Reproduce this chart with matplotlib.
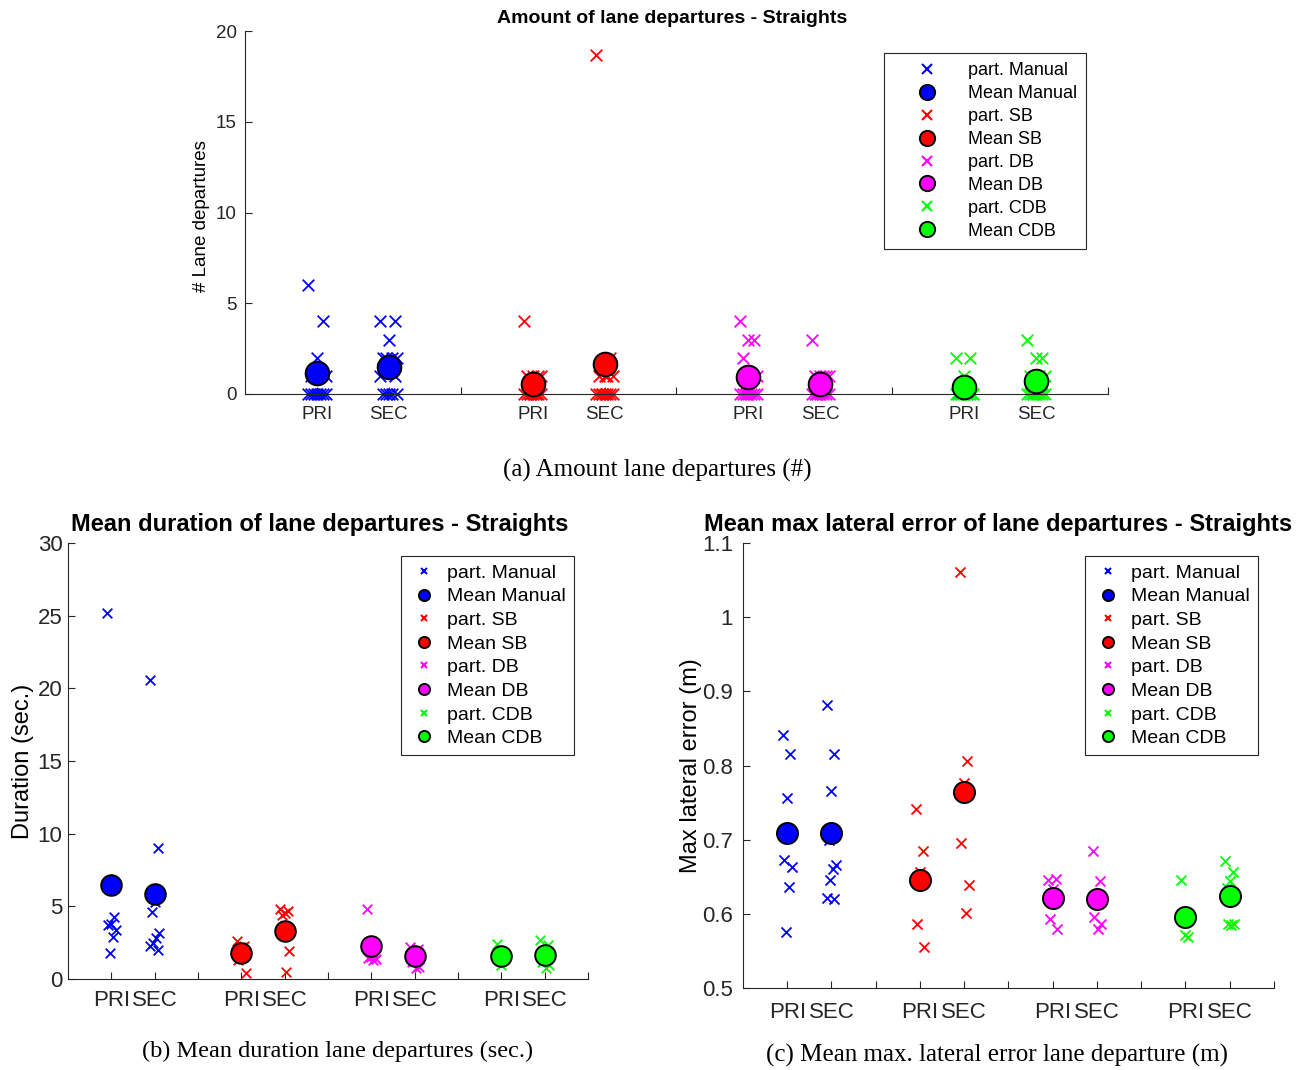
import numpy as np
import matplotlib.pyplot as plt
from matplotlib.lines import Line2D

plt.rcParams['font.family'] = ['Liberation Sans', 'DejaVu Sans']

conds = ['Manual', 'SB', 'DB', 'CDB']
colors = ['#0000ff', '#ff0000', '#ff00ff', '#00ff00']
tick_labels = ['PRI', 'SEC', '']

# amount of lane departures per participant (PRI, SEC)
count_manual = [[6, 4, 2, 1, 1, 1, 1, 0, 0, 0, 0, 0, 0, 0],
                [4, 4, 3, 2, 2, 2, 2, 1, 1, 0, 0, 0, 0, 0]]
count_sb = [[4, 1, 1, 1, 1, 0, 0, 0, 0, 0, 0, 0, 0, 0],
            [18.7, 2, 1, 1, 1, 1, 0, 0, 0, 0, 0, 0, 0, 0]]
count_db = [[4, 3, 3, 2, 1, 1, 0, 0, 0, 0, 0, 0, 0, 0],
            [3, 1, 1, 1, 1, 1, 0, 0, 0, 0, 0, 0, 0, 0]]
count_cdb = [[2, 2, 1, 0, 0, 0, 0, 0, 0, 0, 0, 0, 0, 0],
             [3, 2, 2, 1, 1, 1, 0, 0, 0, 0, 0, 0, 0, 0]]
count_means = [[1.14, 1.5], [0.57, 1.65], [0.93, 0.55], [0.37, 0.73]]

# mean duration of lane departures (sec.)
dur_manual = [[25.2, 4.3, 3.8, 3.7, 3.4, 2.9, 1.8],
              [20.6, 9.0, 5.3, 4.6, 3.2, 2.8, 2.45, 2.3, 2.0]]
dur_sb = [[2.6, 2.3, 2.2, 1.3, 0.45],
          [4.85, 4.7, 4.55, 4.4, 1.9, 0.5]]
dur_db = [[4.8, 2.3, 1.5, 1.45, 1.35, 1.3],
          [2.2, 2.1, 1.9, 1.2, 0.8, 0.75]]
dur_cdb = [[2.4, 1.35, 1.0],
           [2.7, 2.35, 1.9, 1.2, 1.0, 0.75]]
dur_means = [[6.5, 5.85], [1.77, 3.3], [2.27, 1.58], [1.58, 1.65]]

# mean max lateral error of lane departures (m)
lat_manual = [[0.841, 0.815, 0.756, 0.673, 0.663, 0.636, 0.575],
              [0.881, 0.816, 0.766, 0.700, 0.666, 0.661, 0.646, 0.621, 0.620]]
lat_sb = [[0.741, 0.685, 0.657, 0.586, 0.556],
          [1.061, 0.806, 0.776, 0.696, 0.639, 0.601]]
lat_db = [[0.646, 0.647, 0.634, 0.593, 0.580],
          [0.685, 0.644, 0.620, 0.596, 0.586, 0.580]]
lat_cdb = [[0.646, 0.569, 0.571],
           [0.671, 0.657, 0.644, 0.635, 0.587, 0.585, 0.586]]
lat_means = [[0.709, 0.709], [0.646, 0.764], [0.622, 0.620], [0.596, 0.624]]


def jitter(n, width):
    # spread participants a little around the group position
    k = np.arange(n)
    return ((k * 5) % 7 - 3) / 3.0 * width


def draw(ax, parts, means, sx, so, jit):
    for c in range(4):
        for t in range(2):
            x0 = 3 * c + 1 + t
            vals = np.asarray(parts[c][t], dtype=float)
            ax.scatter(x0 + jitter(len(vals), jit), vals, marker='x', c=colors[c],
                       s=sx, linewidths=1.3, zorder=2, clip_on=False)
        ax.scatter([3 * c + 1, 3 * c + 2], means[c], s=so, c=colors[c],
                   edgecolors='k', linewidths=1.4, zorder=3, clip_on=False)
    ax.set_xlim(0, 12)
    ax.set_xticks(range(1, 13))
    ax.set_xticklabels(tick_labels * 4)
    for s in ['top', 'right']:
        ax.spines[s].set_visible(False)
    for s in ['left', 'bottom']:
        ax.spines[s].set_color('0.15')
    ax.tick_params(direction='in', length=5, color='0.15', labelcolor='0.15')


def legend(ax, anchor, fs, msx, mso, spacing, hlen, hpad, bpad):
    handles = []
    for c in range(4):
        handles.append(Line2D([], [], ls='none', marker='x', color=colors[c], ms=msx, mew=1.5,
                              label='part. ' + conds[c]))
        handles.append(Line2D([], [], ls='none', marker='o', mfc=colors[c], mec='k', ms=mso,
                              mew=1.4, label='Mean ' + conds[c]))
    leg = ax.legend(handles=handles, loc='upper right', bbox_to_anchor=anchor,
                    bbox_transform=fig.transFigure, fontsize=fs, fancybox=False,
                    edgecolor='0.15', framealpha=1, borderaxespad=0, labelspacing=spacing,
                    handlelength=hlen, handletextpad=hpad, borderpad=bpad)
    leg.get_frame().set_linewidth(0.8)


fig = plt.figure(figsize=(13.08, 10.70), dpi=100)

# (a) amount of lane departures
ax1 = fig.add_axes([0.1873, 0.6318, 0.6598, 0.3392])
count = [count_manual, count_sb, count_db, count_cdb]
draw(ax1, count, count_means, 70, 290, 0.12)
ax1.set_ylim(0, 20)
ax1.set_yticks([0, 5, 10, 15, 20])
ax1.tick_params(labelsize=13.5)
ax1.tick_params(axis='x', pad=8.5)
ax1.tick_params(axis='y', pad=6)
ax1.set_ylabel('# Lane departures', fontsize=13.5)
ax1.yaxis.set_label_coords(-0.041, 0.49)
ax1.set_title('Amount of lane departures - Straights', fontsize=14, fontweight='bold',
              pad=6, x=0.495)
legend(ax1, (0.8303, 0.9505), 13, 7.5, 11, 0.33, 3.8, 0.34, 0.5)

# (b) duration
ax2 = fig.add_axes([0.052, 0.085, 0.3975, 0.4075])
dur = [dur_manual, dur_sb, dur_db, dur_cdb]
draw(ax2, dur, dur_means, 48, 220, 0.1)
ax2.set_ylim(0, 30)
ax2.set_yticks([0, 5, 10, 15, 20, 25, 30])
ax2.tick_params(labelsize=16)
ax2.tick_params(axis='x', pad=8)
ax2.tick_params(axis='y', pad=4)
ax2.set_ylabel('Duration (sec.)', fontsize=17)
ax2.yaxis.set_label_coords(-0.065, 0.5)
ax2.set_title('Mean duration of lane departures - Straights', fontsize=17,
              fontweight='bold', pad=9, x=0.485)
legend(ax2, (0.4388, 0.4804), 14, 5, 8, 0.31, 1.5, 0.45, 0.42)

# (c) lateral error
ax3 = fig.add_axes([0.568, 0.0766, 0.406, 0.4159])
lat = [lat_manual, lat_sb, lat_db, lat_cdb]
draw(ax3, lat, lat_means, 52, 230, 0.1)
ax3.set_ylim(0.5, 1.1)
ax3.set_yticks([0.5, 0.6, 0.7, 0.8, 0.9, 1.0, 1.1])
ax3.set_yticklabels(['0.5', '0.6', '0.7', '0.8', '0.9', '1', '1.1'])
ax3.tick_params(labelsize=16)
ax3.tick_params(axis='x', pad=10)
ax3.tick_params(axis='y', pad=7)
ax3.set_ylabel('Max lateral error (m)', fontsize=17)
ax3.yaxis.set_label_coords(-0.077, 0.5)
ax3.set_title('Mean max lateral error of lane departures - Straights', fontsize=17,
              fontweight='bold', pad=9, x=0.48)
legend(ax3, (0.9618, 0.4804), 14, 5, 8, 0.31, 1.5, 0.45, 0.42)

serif = ['Liberation Serif', 'DejaVu Serif']
fig.text(0.5023, 1 - 470 / 1070, '(a) Amount lane departures (#)', ha='center', va='center',
         fontsize=18, family=serif)
fig.text(0.2577, 1 - 1051 / 1070, '(b) Mean duration lane departures (sec.)', ha='center',
         va='center', fontsize=17.5, family=serif)
fig.text(0.7622, 1 - 1055 / 1070, '(c) Mean max. lateral error lane departure (m)',
         ha='center', va='center', fontsize=18, family=serif)

fig.savefig('out.png', dpi=100)
